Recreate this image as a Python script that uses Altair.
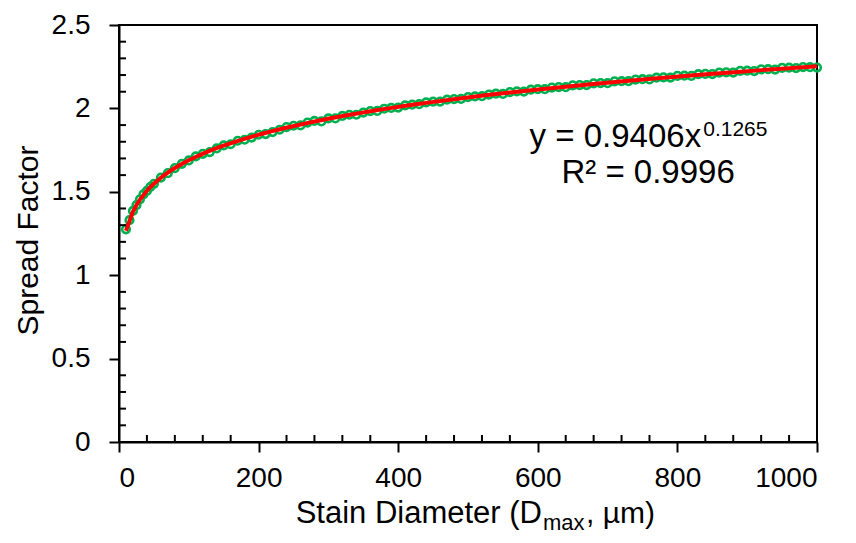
import altair as alt
import pandas as pd

# ---- data ----
stain_diameter = [10, 15, 20, 25, 30, 35, 40, 45, 50,
                  60, 70, 80, 90, 100, 110, 120, 130, 140, 150,
                  160, 170, 180, 190, 200, 210, 220, 230, 240, 250,
                  260, 270, 280, 290, 300, 310, 320, 330, 340, 350,
                  360, 370, 380, 390, 400, 410, 420, 430, 440, 450,
                  460, 470, 480, 490, 500, 510, 520, 530, 540, 550,
                  560, 570, 580, 590, 600, 610, 620, 630, 640, 650,
                  660, 670, 680, 690, 700, 710, 720, 730, 740, 750,
                  760, 770, 780, 790, 800, 810, 820, 830, 840, 850,
                  860, 870, 880, 890, 900, 910, 920, 930, 940, 950,
                  960, 970, 980, 990, 1000]
spread_factor = [1.275, 1.330, 1.385, 1.420, 1.455, 1.485, 1.505, 1.530, 1.548,
                 1.585, 1.612, 1.642, 1.668, 1.688, 1.712, 1.728, 1.738, 1.760, 1.778,
                 1.785, 1.806, 1.812, 1.825, 1.842, 1.846, 1.858, 1.872, 1.888, 1.896,
                 1.898, 1.915, 1.925, 1.922, 1.940, 1.940, 1.955, 1.962, 1.962, 1.975,
                 1.984, 1.985, 1.998, 2.003, 2.005, 2.018, 2.022, 2.025, 2.036, 2.040,
                 2.041, 2.052, 2.056, 2.057, 2.068, 2.072, 2.073, 2.083, 2.088, 2.087,
                 2.098, 2.102, 2.101, 2.112, 2.115, 2.115, 2.125, 2.128, 2.127, 2.138,
                 2.140, 2.140, 2.150, 2.152, 2.151, 2.162, 2.163, 2.163, 2.173, 2.175,
                 2.174, 2.184, 2.186, 2.185, 2.195, 2.196, 2.195, 2.205, 2.207, 2.206,
                 2.215, 2.216, 2.215, 2.225, 2.226, 2.224, 2.234, 2.235, 2.233, 2.243,
                 2.244, 2.242, 2.248, 2.247, 2.245]

x_major = [0, 200, 400, 600, 800, 1000]
x_minor = [40, 80, 120, 160, 240, 280, 320, 360, 440, 480, 520, 560,
           640, 680, 720, 760, 840, 880, 920, 960]
y_major = [0, 0.5, 1, 1.5, 2, 2.5]
y_minor = [0.1, 0.2, 0.3, 0.4, 0.6, 0.7, 0.8, 0.9, 1.1, 1.2, 1.3, 1.4,
           1.6, 1.7, 1.8, 1.9, 2.1, 2.2, 2.3, 2.4]

eq_text = "y = 0.9406x"
eq_power = "0.1265"
r2_text = "R\u00b2 = 0.9996"
xtitle_main = "Stain Diameter (D"
xtitle_sub = "max"
xtitle_end = ", \u00b5m)"
ytitle = "Spread Factor"

FONT = "Liberation Sans"

df = pd.DataFrame({"d": stain_diameter, "s": spread_factor})
one = pd.DataFrame({"k": [0]})

xscale = alt.Scale(domain=[0, 1000], nice=False)
yscale = alt.Scale(domain=[0, 2.5], nice=False)

xenc = alt.X("d:Q", scale=xscale,
             axis=alt.Axis(values=x_major, format="d", title=None, labelPadding=12))
yenc = alt.Y("s:Q", scale=yscale,
             axis=alt.Axis(values=y_major, format="~g", title=ytitle,
                           titleFontSize=30, titleFont=FONT, titleFontWeight="normal",
                           titleColor="black", titleX=-82, titleY=215,
                           titleBaseline="alphabetic", titleAngle=270,
                           labelPadding=19))

points = alt.Chart(df).mark_point(shape="circle", filled=False, color="#00B050",
                                  size=58, strokeWidth=2.6, opacity=1).encode(x=xenc, y=yenc)

trend = alt.Chart(df).transform_regression("d", "s", method="pow").mark_line(
    color="#FF0000", strokeWidth=4).encode(x=xenc, y=yenc)

yminor = alt.Chart(pd.DataFrame({"s": y_minor})).mark_rule(
    color="black", strokeWidth=2).encode(y=alt.Y("s:Q", scale=yscale), x=alt.value(0), x2=alt.value(7))
xminor = alt.Chart(pd.DataFrame({"d": x_minor})).mark_rule(
    color="black", strokeWidth=2).encode(x=alt.X("d:Q", scale=xscale), y=alt.value(417), y2=alt.value(410))

eq = alt.Chart(one).mark_text(text=eq_text, font=FONT, fontSize=33, align="right",
                              baseline="alphabetic", color="black").encode(
    x=alt.datum(834), y=alt.datum(1.771))
eqp = alt.Chart(one).mark_text(text=eq_power, font=FONT, fontSize=21, align="left",
                               baseline="alphabetic", color="black").encode(
    x=alt.datum(837), y=alt.datum(1.832))
r2 = alt.Chart(one).mark_text(text=r2_text, font=FONT, fontSize=33, align="center",
                              baseline="alphabetic", color="black").encode(
    x=alt.datum(758), y=alt.datum(1.550))

xt1 = alt.Chart(one).mark_text(text=xtitle_main, font=FONT, fontSize=31, align="right",
                               baseline="alphabetic", color="black").encode(
    x=alt.value(423), y=alt.value(498))
xt2 = alt.Chart(one).mark_text(text=xtitle_sub, font=FONT, fontSize=22, align="left",
                               baseline="alphabetic", color="black").encode(
    x=alt.value(424), y=alt.value(505))
xt3 = alt.Chart(one).mark_text(text=xtitle_end, font=FONT, fontSize=30, align="left",
                               baseline="alphabetic", color="black").encode(
    x=alt.value(467), y=alt.value(498))

chart = alt.layer(points, trend, yminor, xminor, eq, eqp, r2, xt1, xt2, xt3).properties(
    width=698, height=417,
    autosize=alt.AutoSizeParams(type="none"),
    padding={"left": 111, "top": 17, "right": 31, "bottom": 93},
    background="white",
).configure_view(stroke="black", strokeWidth=2).configure_axis(
    grid=False, domainColor="black", domainWidth=2, tickColor="black", tickWidth=2,
    tickSize=10, labelFont=FONT, labelFontSize=28, labelColor="black",
)

chart.save("out.html", embed_options={"renderer": "svg", "actions": False})
